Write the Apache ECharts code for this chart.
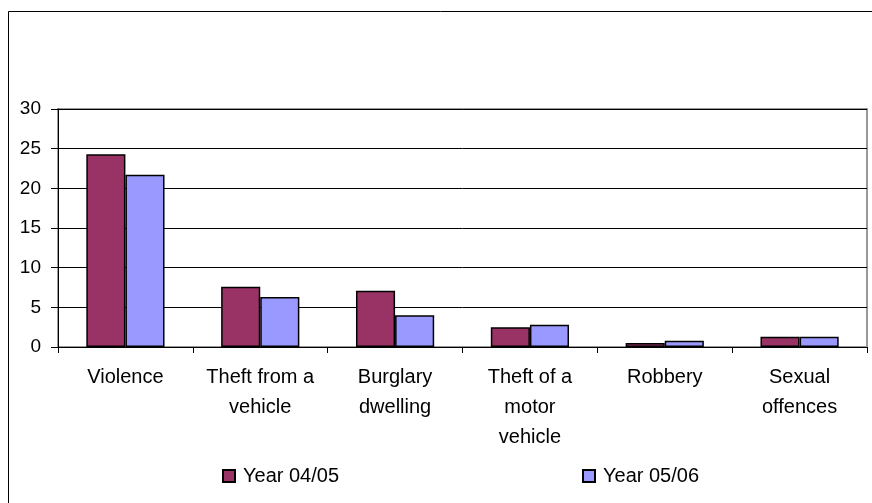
<!DOCTYPE html>
<html>
<head>
<meta charset="utf-8">
<script src="https://cdn.jsdelivr.net/npm/echarts@6/dist/echarts.min.js"></script>
<style>
  html, body { margin: 0; padding: 0; background: #fff; }
  #chart { width: 872px; height: 503px; }
</style>
</head>
<body>
<div id="chart"></div>
<script>
const categories = ['Violence', 'Theft from a\nvehicle', 'Burglary\ndwelling', 'Theft of a\nmotor\nvehicle', 'Robbery', 'Sexual\noffences'];
const year0405 = [24.3, 7.6, 7.1, 2.5, 0.5, 1.3];
const year0506 = [21.7, 6.3, 4.0, 2.8, 0.8, 1.3];
const seriesNames = ['Year 04/05', 'Year 05/06'];
const yTicks = { min: 0, max: 30, interval: 5 };

const font = 'Liberation Sans, Arial, sans-serif';
const chart = echarts.init(document.getElementById('chart'));

chart.setOption({
  animation: false,
  textStyle: { fontFamily: font },
  // outer chart frame (only top and left edges fall inside the window)
  graphic: [{
    type: 'rect',
    shape: { x: 8.5, y: 11.5, width: 900, height: 600 },
    style: { fill: 'none', stroke: '#000', lineWidth: 1 },
    z: -1
  }],
  grid: {
    left: 58, right: 5, top: 109, bottom: 156,
    show: true, borderColor: '#999', borderWidth: 2
  },
  legend: [
    {
      data: [seriesNames[0]], left: 222, top: 466, padding: 0,
      itemWidth: 12, itemHeight: 12, icon: 'rect',
      textStyle: { fontSize: 20, color: '#000', padding: [0, 0, 0, 3] }
    },
    {
      data: [seriesNames[1]], left: 582, top: 466, padding: 0,
      itemWidth: 12, itemHeight: 12, icon: 'rect',
      textStyle: { fontSize: 20, color: '#000', padding: [0, 0, 0, 3] }
    }
  ],
  xAxis: {
    type: 'category',
    data: categories,
    axisLine: { lineStyle: { color: '#000', width: 1 } },
    axisTick: { show: true, length: 6, lineStyle: { color: '#000' } },
    axisLabel: { color: '#000', fontSize: 20, lineHeight: 30, margin: 15, interval: 0 }
  },
  yAxis: {
    type: 'value',
    min: yTicks.min, max: yTicks.max, interval: yTicks.interval,
    axisLine: { show: true, lineStyle: { color: '#000', width: 1 } },
    axisTick: { show: true, length: 7, lineStyle: { color: '#000' } },
    axisLabel: { color: '#000', fontSize: 19, margin: 17 },
    splitLine: { lineStyle: { color: '#000', width: 1 } }
  },
  series: [
    {
      name: seriesNames[0], type: 'bar', data: year0405,
      barGap: '0%', barCategoryGap: '42%',
      itemStyle: { color: '#993366', borderColor: '#000', borderWidth: 1.5 }
    },
    {
      name: seriesNames[1], type: 'bar', data: year0506,
      barGap: '0%', barCategoryGap: '42%',
      itemStyle: { color: '#9999FF', borderColor: '#000', borderWidth: 1.5 }
    }
  ]
});
</script>
</body>
</html>
